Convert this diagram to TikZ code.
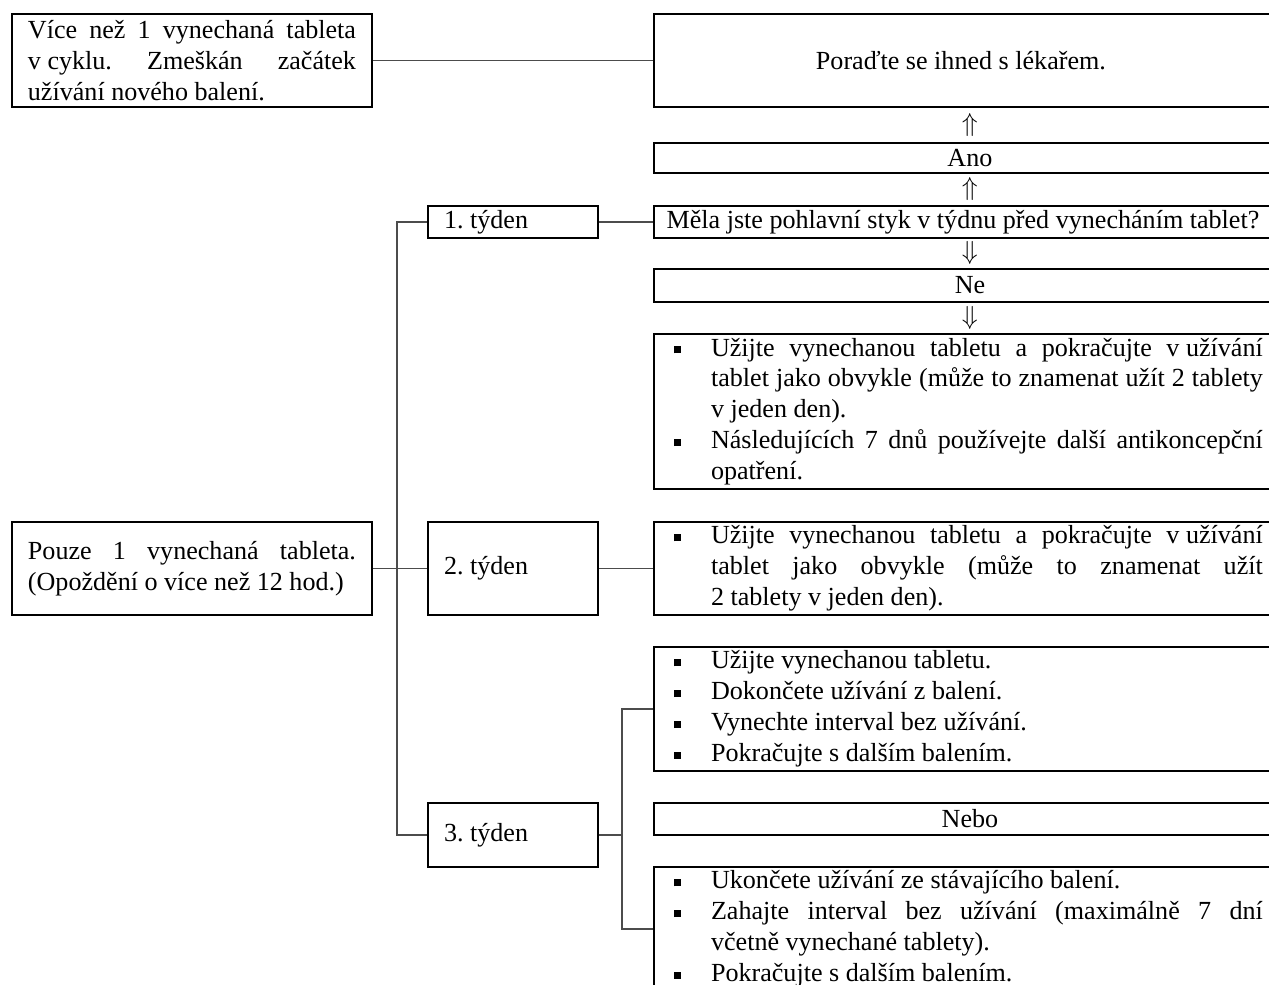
\documentclass[tikz,border=0pt]{standalone}
\usepackage{fontspec}
\setmainfont{Liberation Serif}
\usetikzlibrary{calc}
\frenchspacing
\newcommand{\bul}[1]{\par\noindent\hangindent=26.2pt\hangafter=1\makebox[26.2pt][l]{\hspace{9.2pt}\raisebox{1.2pt}{\rule{3.2pt}{3.2pt}}}#1}
\newcommand{\bbox}[1]{\parbox{280pt}{#1}\hspace*{10.6pt}}
\newcommand{\fsp}{\nobreak\hspace{0.25em}}
\begin{document}
\begin{tikzpicture}[x=0.46pt,y=-0.46pt,
  boxnode/.style={draw=black, line width=0.9pt, inner sep=0pt, anchor=north west, font=\fontsize{12}{14.2}\selectfont},
  rbox/.style={boxnode, minimum width=290.7pt},
  wbox/.style={boxnode, minimum width=78.2pt},
  lbox/.style={boxnode, minimum width=165.6pt, minimum height=42.8pt},
  conn/.style={draw=black!70, line width=0.55pt},
  arr/.style={inner sep=0pt, font=\fontsize{12}{14}\selectfont}]
\useasboundingbox (0,0) rectangle (1269,985);
\fill[white] (0,0) rectangle (1269,985);
\clip (0,0) rectangle (1269,985);

% left boxes
\node[lbox] (A) at (11,13) {\parbox{150.9pt}{Více než 1 vynechaná tableta\linebreak v\fsp cyklu. Zmeškán začátek\linebreak užívání nového balení.}};
\node[lbox] (P) at (11,521) {\parbox{150.9pt}{Pouze 1 vynechaná tableta.\linebreak (Opoždění o více než 12 hod.)}};

% week boxes
\node[wbox, minimum height=14.7pt] (W1) at (427,205) {\makebox[78.2pt][l]{\hspace{7.4pt}1. týden}};
\node[wbox, minimum height=42.8pt] (W2) at (427,521) {\makebox[78.2pt][l]{\hspace{7.4pt}2. týden}};
\node[wbox, minimum height=29.4pt] (W3) at (427,802) {\makebox[78.2pt][l]{\hspace{7.4pt}3. týden}};

% right boxes
\node[rbox, minimum height=42.8pt] (Por) at (653,13) {Poraďte se ihned s lékařem.\hspace*{8.3pt}};
\node[rbox, minimum height=13.8pt] (Ano) at (653,142) {Ano};
\node[rbox, minimum height=14.7pt] (Mela) at (653,205) {Měla jste pohlavní styk v~týdnu před vynecháním tablet?\hspace*{6.4pt}};
\node[rbox, minimum height=15.2pt] (Ne) at (653,268) {Ne};
\node[rbox, minimum height=71.3pt] (B1) at (653,333) {\bbox{%
\bul{Užijte vynechanou tabletu a pokračujte v\fsp užívání\linebreak tablet jako obvykle (může to znamenat užít 2 tablety\linebreak v~jeden den).}
\bul{Následujících 7 dnů používejte další antikoncepční\linebreak opatření.}}};
\node[rbox, minimum height=42.8pt] (B2) at (653,521) {\bbox{%
\bul{Užijte vynechanou tabletu a pokračujte v\fsp užívání\linebreak tablet jako obvykle (může to znamenat užít\linebreak 2~tablety v~jeden den).}}};
\node[rbox, minimum height=57pt] (B3A) at (653,646) {\bbox{%
\bul{Užijte vynechanou tabletu.}
\bul{Dokončete užívání z~balení.}
\bul{Vynechte interval bez užívání.}
\bul{Pokračujte s~dalším balením.}}};
\node[rbox, minimum height=14.7pt] (Nebo) at (653,802) {Nebo};
\node[rbox, minimum height=57pt] (B3C) at (653,866) {\bbox{%
\bul{Ukončete užívání ze stávajícího balení.}
\bul{Zahajte interval bez užívání (maximálně 7 dní\linebreak včetně vynechané tablety).}
\bul{Pokračujte s~dalším balením.}}};

% arrows (glyphs)
\node[arr] (u1) at ($(Por.south)!0.5!(Ano.north)$) {$\Uparrow$};
\node[arr] (u2) at ($(Ano.south)!0.5!(Mela.north)$) {$\Uparrow$};
\node[arr] (d1) at ($(Mela.south)!0.5!(Ne.north)$) {$\Downarrow$};
\node[arr] (d2) at ($(Ne.south)!0.5!(B1.north)$) {$\Downarrow$};

% connectors
\coordinate (tr) at (397,0);
\coordinate (tr2) at (622,0);
\draw[conn] (A.east) -- (Por.west);
\draw[conn] (P.east) -- (W2.west);
\draw[conn] (W1.west) -- (W1.west -| tr) -- (W3.west -| tr) -- (W3.west);
\draw[conn] (W1.east) -- (Mela.west);
\draw[conn] (W2.east) -- (B2.west);
\draw[conn] (W3.east) -- (W3.east -| tr2);
\draw[conn] (B3A.west) -- (B3A.west -| tr2) -- (B3C.west -| tr2) -- (B3C.west);
\end{tikzpicture}
\end{document}
